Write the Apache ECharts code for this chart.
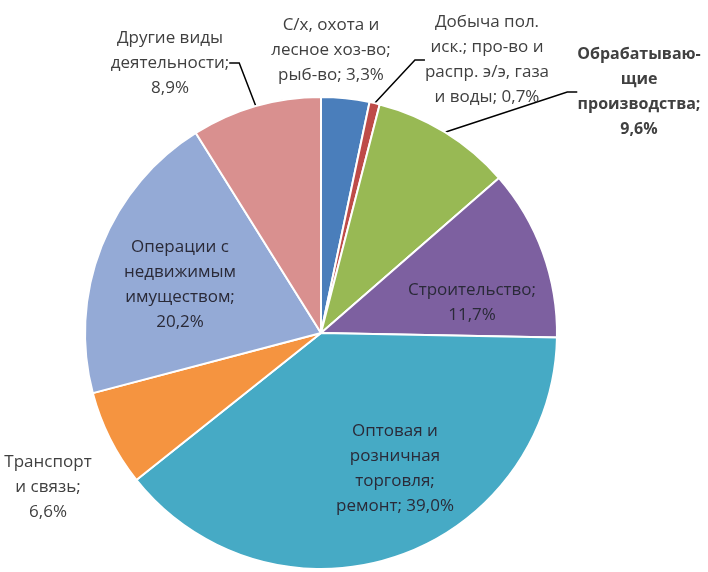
<!DOCTYPE html>
<html>
<head>
<meta charset="utf-8">
<script src="https://cdn.jsdelivr.net/npm/echarts@6/dist/echarts.min.js"></script>
<style>html,body{margin:0;padding:0;background:#fff;}#chart{width:708px;height:572px;}</style>
</head>
<body>
<div id="chart"></div>
<script>
var categories = [
  'С/х, охота и\nлесное хоз-во;\nрыб-во;',
  'Добыча пол.\nиск.; про-во и\nраспр. э/э, газа\nи воды;',
  'Обрабатываю-\nщие\nпроизводства;\n',
  'Строительство;\n',
  'Оптовая и\nрозничная\nторговля;\nремонт;',
  'Транспорт\nи связь;\n',
  'Операции с\nнедвижимым\nимуществом;\n',
  'Другие виды\nдеятельности;\n'
];
var values = [3.3, 0.7, 9.6, 11.7, 39.0, 6.6, 20.2, 8.9];
var colors = ['#4A7EBB', '#BE4B48', '#98B954', '#7D60A0', '#46AAC5', '#F59440', '#94AAD6', '#D9908F'];

var labelPos = [
  {x: 331, y: 50, pos: 'outside', line: false},
  {x: 487, y: 60, pos: 'outside', line: true},
  {x: 639, y: 92, pos: 'outside', line: true, bold: true},
  {x: 472, y: 303, pos: 'inside'},
  {x: 395, y: 469, pos: 'inside'},
  {x: 48, y: 487, pos: 'outside', line: false},
  {x: 180, y: 285, pos: 'inside'},
  {x: 170, y: 63, pos: 'outside', line: true}
];

function fmt(v){ return v.toFixed(1).replace('.', ',') + '%'; }

var data = values.map(function(v, i){
  var lp = labelPos[i];
  return {
    name: categories[i],
    value: v,
    itemStyle: {color: colors[i]},
    label: {
      position: lp.pos,
      fontWeight: lp.bold ? 'bold' : 'normal',
      fontSize: lp.bold ? 16 : 17,
      color: lp.pos === 'inside' ? '#2a2a38' : '#404040'
    },
    labelLine: {show: !!lp.line}
  };
});

var chart = echarts.init(document.getElementById('chart'));
chart.setOption({
  backgroundColor: '#ffffff',
  animation: false,
  series: [{
    type: 'pie',
    center: [321, 333],
    radius: 236,
    startAngle: 90,
    clockwise: true,
    avoidLabelOverlap: false,
    data: data,
    itemStyle: {borderColor: '#ffffff', borderWidth: 2},
    label: {
      fontFamily: 'Open Sans',
      fontSize: 17,
      lineHeight: 25,
      align: 'center',
      formatter: function(p){
        var n = p.name;
        var sep = n.charAt(n.length - 1) === '\n' ? '' : ' ';
        return n + sep + fmt(p.value);
      }
    },
    labelLine: {lineStyle: {color: '#000', width: 1.5}, length: 10, length2: 10},
    labelLayout: function(params){
      var lp = labelPos[params.dataIndex];
      return {x: lp.x, y: lp.y, align: 'center', verticalAlign: 'middle', hideOverlap: false};
    }
  }]
});
</script>
</body>
</html>
